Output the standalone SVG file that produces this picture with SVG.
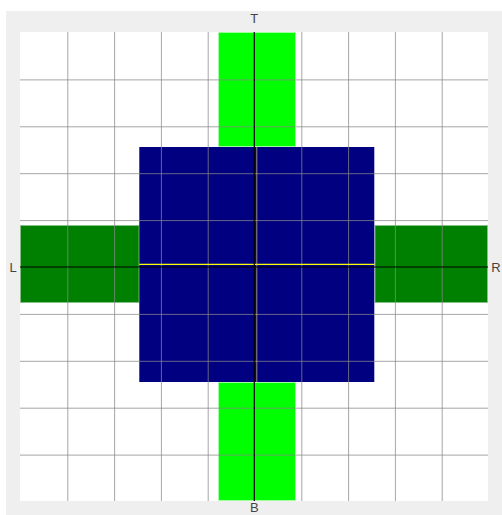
<svg xmlns="http://www.w3.org/2000/svg" width="502" height="515" viewBox="0 0 502 515">
<style>
.lbl{font-family:"Liberation Sans",Arial,sans-serif;font-size:13px;fill:#444;}
.grid line{stroke:#888;stroke-width:1;stroke-opacity:0.75;}
.lime{fill:#00ff00;stroke:#aaffaa;stroke-width:0.8;}
.dg{fill:#008000;stroke:#88c088;stroke-width:0.8;}
.axis{stroke:#000;stroke-width:1.2;}
</style>
<rect x="0" y="0" width="502" height="515" fill="#ffffff"/>
<rect x="6" y="11" width="496" height="504" fill="#efefef"/>
<rect x="20" y="32" width="468" height="469" fill="#ffffff"/>
<g id="top-bar"><rect class="lime" x="218.5" y="32.5" width="77" height="114"/></g>
<g id="bottom-bar"><rect class="lime" x="218.5" y="382.5" width="77" height="118"/></g>
<g id="left-bar"><rect class="dg" x="20.5" y="225.5" width="118.5" height="77"/></g>
<g id="right-bar"><rect class="dg" x="375" y="225.5" width="112.5" height="77"/></g>
<g id="center"><rect x="139.3" y="147" width="235" height="235" fill="#000080"/></g>
<g class="grid">
<line x1="67.8" y1="32" x2="67.8" y2="501"/>
<line x1="114.6" y1="32" x2="114.6" y2="501"/>
<line x1="161.4" y1="32" x2="161.4" y2="501"/>
<line x1="208.2" y1="32" x2="208.2" y2="501"/>
<line x1="301.8" y1="32" x2="301.8" y2="501"/>
<line x1="348.6" y1="32" x2="348.6" y2="501"/>
<line x1="395.4" y1="32" x2="395.4" y2="501"/>
<line x1="442.2" y1="32" x2="442.2" y2="501"/>
<line x1="20" y1="79.9" x2="488" y2="79.9"/>
<line x1="20" y1="126.8" x2="488" y2="126.8"/>
<line x1="20" y1="173.7" x2="488" y2="173.7"/>
<line x1="20" y1="220.6" x2="488" y2="220.6"/>
<line x1="20" y1="314.4" x2="488" y2="314.4"/>
<line x1="20" y1="361.3" x2="488" y2="361.3"/>
<line x1="20" y1="408.2" x2="488" y2="408.2"/>
<line x1="20" y1="455.1" x2="488" y2="455.1"/>
</g>
<g id="connectors">
<line x1="139.3" y1="264.3" x2="374.3" y2="264.3" stroke="#ffff00" stroke-width="1.2"/>
<line x1="256.8" y1="147" x2="256.8" y2="382" stroke="#d8d070" stroke-width="0.7"/>
<line class="axis" x1="20" y1="267" x2="488" y2="267"/>
<line class="axis" x1="254.3" y1="32" x2="254.3" y2="501"/>
</g>
<g id="labels">
<text class="lbl" x="254.3" y="23" text-anchor="middle">T</text>
<text class="lbl" x="254.3" y="511.5" text-anchor="middle">B</text>
<text class="lbl" x="13" y="271.5" text-anchor="middle">L</text>
<text class="lbl" x="496" y="271.5" text-anchor="middle">R</text>
</g>
</svg>
